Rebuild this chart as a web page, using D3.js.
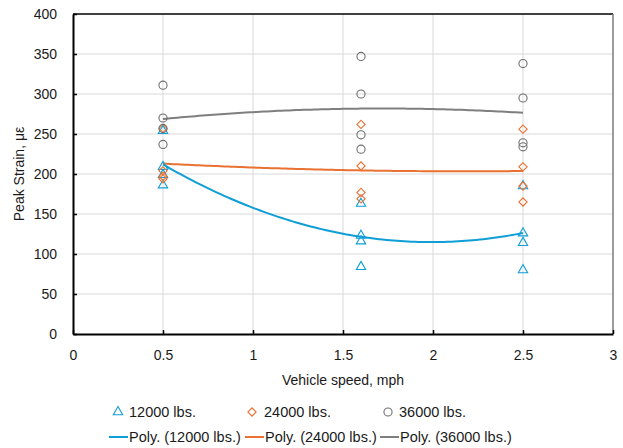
<!DOCTYPE html>
<html>
<head>
<meta charset="utf-8">
<script src="https://cdn.jsdelivr.net/npm/d3@7"></script>
<style>
  html, body { margin: 0; padding: 0; background: #fff; }
  svg { display: block; font-family: "Liberation Sans", Arial, sans-serif; }
</style>
</head>
<body>
<svg id="chart" width="623" height="448"></svg>
<script>
// Measured peak strain (με) per run, grouped by vehicle speed (mph)
const speedMph  = [0.5, 0.5, 0.5, 0.5, 1.6, 1.6, 1.6, 1.6, 2.5, 2.5, 2.5, 2.5];
const strain12k = [254, 209, 199, 186, 163, 123, 116, 84, 185, 126, 114, 80];
const strain24k = [257, 204, 197, 194, 262, 210, 177, 169, 256, 209, 185, 165];
const strain36k = [311, 270, 257, 237, 347, 300, 249, 231, 338, 295, 239, 234];

const seriesNames = ["12000 lbs.", "24000 lbs.", "36000 lbs."];
const seriesColors = ["#0F9ED5", "#E97132", "#707070"];
const trendColors = ["#0F9ED5", "#E97132", "#7F7F7F"];
const xTicks = [0, 0.5, 1, 1.5, 2, 2.5, 3];
const yTicks = [0, 50, 100, 150, 200, 250, 300, 350, 400];

const series = [strain12k, strain24k, strain36k];

const svg = d3.select("#chart");
const m = { left: 73, right: 613, top: 14, bottom: 334 };

const x = d3.scaleLinear().domain([0, 3]).range([m.left, m.right]);
const y = d3.scaleLinear().domain([0, 400]).range([m.bottom, m.top]);

// Gridlines
svg.append("g").selectAll("line").data(yTicks.filter(v => v > 0 && v < 400)).join("line")
  .attr("x1", m.left).attr("x2", m.right)
  .attr("y1", d => y(d)).attr("y2", d => y(d))
  .attr("stroke", "#d9d9d9").attr("stroke-width", 1);
svg.append("g").selectAll("line").data(xTicks.filter(v => v > 0 && v < 3)).join("line")
  .attr("y1", m.top).attr("y2", m.bottom)
  .attr("x1", d => x(d)).attr("x2", d => x(d))
  .attr("stroke", "#d9d9d9").attr("stroke-width", 1);

// Plot frame: top and right edges
svg.append("line").attr("x1", m.left).attr("x2", m.right).attr("y1", m.top).attr("y2", m.top)
  .attr("stroke", "#000").attr("stroke-width", 1.3);
svg.append("line").attr("x1", m.right).attr("x2", m.right).attr("y1", m.top).attr("y2", m.bottom)
  .attr("stroke", "#7a7a7a").attr("stroke-width", 1.5);

// Axes
const xAxis = d3.axisBottom(x).tickValues(xTicks).tickSizeInner(-4).tickSizeOuter(0)
  .tickFormat(d3.format("~g")).tickPadding(16);
const yAxis = d3.axisLeft(y).tickValues(yTicks).tickSizeInner(-4).tickSizeOuter(0)
  .tickPadding(16);

const gx = svg.append("g").attr("transform", `translate(0,${m.bottom})`).call(xAxis);
const gy = svg.append("g").attr("transform", `translate(${m.left},0)`).call(yAxis);
[gx, gy].forEach(g => {
  g.select(".domain").attr("stroke", "#000").attr("stroke-width", 2);
  g.selectAll(".tick line").attr("stroke", "#000").attr("stroke-width", 1.5);
  g.selectAll(".tick text").attr("fill", "#1a1a1a")
    .style("font-family", "'Liberation Sans', Arial, sans-serif").style("font-size", "14px");
});

// Axis titles
svg.append("text").attr("x", (m.left + m.right) / 2).attr("y", 385)
  .attr("text-anchor", "middle").attr("fill", "#1a1a1a").style("font-size", "14px")
  .text("Vehicle speed, mph");
svg.append("text").attr("transform", `translate(24,${(m.top + m.bottom) / 2}) rotate(-90)`)
  .attr("text-anchor", "middle").attr("fill", "#1a1a1a").style("font-size", "14px")
  .text("Peak Strain, με");

// Second-order polynomial least-squares fit
function polyFit2(xs, ys) {
  const S = [0, 0, 0, 0, 0], T = [0, 0, 0];
  xs.forEach((xv, i) => {
    for (let k = 0; k < 5; k++) S[k] += Math.pow(xv, k);
    for (let k = 0; k < 3; k++) T[k] += ys[i] * Math.pow(xv, k);
  });
  const A = [[S[0], S[1], S[2], T[0]], [S[1], S[2], S[3], T[1]], [S[2], S[3], S[4], T[2]]];
  for (let i = 0; i < 3; i++) {
    let p = i;
    for (let r = i + 1; r < 3; r++) if (Math.abs(A[r][i]) > Math.abs(A[p][i])) p = r;
    [A[i], A[p]] = [A[p], A[i]];
    for (let r = 0; r < 3; r++) {
      if (r === i) continue;
      const f = A[r][i] / A[i][i];
      for (let c = i; c < 4; c++) A[r][c] -= f * A[i][c];
    }
  }
  const c = A.map((row, i) => row[3] / row[i]);
  return xv => c[0] + c[1] * xv + c[2] * xv * xv;
}

const xMin = d3.min(speedMph), xMax = d3.max(speedMph);
const samples = d3.range(0, 101).map(i => xMin + (xMax - xMin) * i / 100);
const line = d3.line().x(d => x(d[0])).y(d => y(d[1]));

series.forEach((vals, si) => {
  const f = polyFit2(speedMph, vals);
  svg.append("path").datum(samples.map(s => [s, f(s)]))
    .attr("d", line).attr("fill", "none")
    .attr("stroke", trendColors[si]).attr("stroke-width", 2);
});

// Markers: triangle, square diamond (rotated square), circle
const symbols = [
  { gen: d3.symbol().type(d3.symbolTriangle).size(38), rot: 0 },
  { gen: d3.symbol().type(d3.symbolSquare).size(34), rot: 45 },
  { gen: d3.symbol().type(d3.symbolCircle).size(52), rot: 0 }
];

series.forEach((vals, si) => {
  svg.append("g").selectAll("path").data(vals).join("path")
    .attr("transform", (d, i) => `translate(${x(speedMph[i])},${y(d)}) rotate(${symbols[si].rot})`)
    .attr("d", symbols[si].gen())
    .attr("fill", "none").attr("stroke", seriesColors[si]).attr("stroke-width", 1.1);
});

// Legend
const legendMarkerX = [118, 252, 388];
const legendTextX = [129, 264, 399];
const legendLineX = [109, 245, 380];
const legend = svg.append("g").style("font-size", "14.5px").attr("fill", "#1a1a1a");
seriesNames.forEach((name, si) => {
  legend.append("path")
    .attr("transform", `translate(${legendMarkerX[si]},412) rotate(${symbols[si].rot})`)
    .attr("d", symbols[si].gen()).attr("fill", "none")
    .attr("stroke", seriesColors[si]).attr("stroke-width", 1.1);
  legend.append("text").attr("x", legendTextX[si]).attr("y", 417).text(name);
  legend.append("line").attr("x1", legendLineX[si]).attr("x2", legendLineX[si] + 19)
    .attr("y1", 437).attr("y2", 437)
    .attr("stroke", trendColors[si]).attr("stroke-width", 2);
  legend.append("text").attr("x", legendLineX[si] + 20).attr("y", 442).text(`Poly. (${name})`);
});
</script>
</body>
</html>
